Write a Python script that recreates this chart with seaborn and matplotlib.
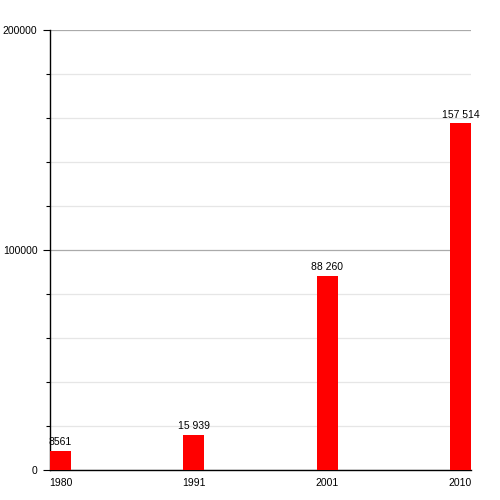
import matplotlib
matplotlib.use("Agg")
import matplotlib.pyplot as plt
import seaborn as sns
import pandas as pd
from matplotlib.ticker import MultipleLocator

years = ["1980", "1991", "2001", "2010"]
population = [8561, 15939, 88260, 157514]
bar_labels = ["8561", "15 939", "88 260", "157 514"]

sns.set_style("white")
plt.rcParams['font.family'] = ['Liberation Sans', 'DejaVu Sans']
plt.rcParams['text.color'] = 'black'
plt.rcParams['xtick.color'] = 'black'
plt.rcParams['ytick.color'] = 'black'

df = pd.DataFrame({"year": years, "pop": population})

fig = plt.figure(figsize=(5, 5), dpi=100)
ax = fig.add_axes([0.1, 0.06, 0.842, 0.88])

w = 0.158
sns.barplot(data=df, x="year", y="pop", color="#ff0000", width=w,
            saturation=1, linewidth=0, ax=ax, zorder=3)

for i, (v, lab) in enumerate(zip(population, bar_labels)):
    ax.text(i, v + 1800, lab, ha="center", va="bottom", fontsize=7.5,
            color="black")

ax.set_xlim(-w / 2, 3 + w / 2)
ax.set_ylim(0, 200000)
ax.yaxis.set_major_locator(MultipleLocator(100000))
ax.yaxis.set_minor_locator(MultipleLocator(20000))
ax.grid(axis="y", which="major", color="#aaaaaa", linewidth=0.9, zorder=0)
ax.grid(axis="y", which="minor", color="#e6e6e6", linewidth=0.9, zorder=0)
ax.set_axisbelow(True)

ax.tick_params(axis="y", which="both", left=True, length=5, width=0.8,
               labelsize=7.5, pad=4, colors="black")
ax.tick_params(axis="y", which="minor", length=3)
ax.tick_params(axis="x", bottom=False, labelsize=7.5, pad=2, colors="black")
ax.yaxis.set_major_formatter(plt.FuncFormatter(lambda v, p: f"{int(v)}"))

for s in ["top", "right"]:
    ax.spines[s].set_visible(False)
ax.spines["left"].set_color("black")
ax.spines["bottom"].set_color("black")
ax.spines["left"].set_linewidth(1)
ax.spines["bottom"].set_linewidth(1)
ax.set_xlabel("")
ax.set_ylabel("")

fig.savefig("out.png", dpi=100)
